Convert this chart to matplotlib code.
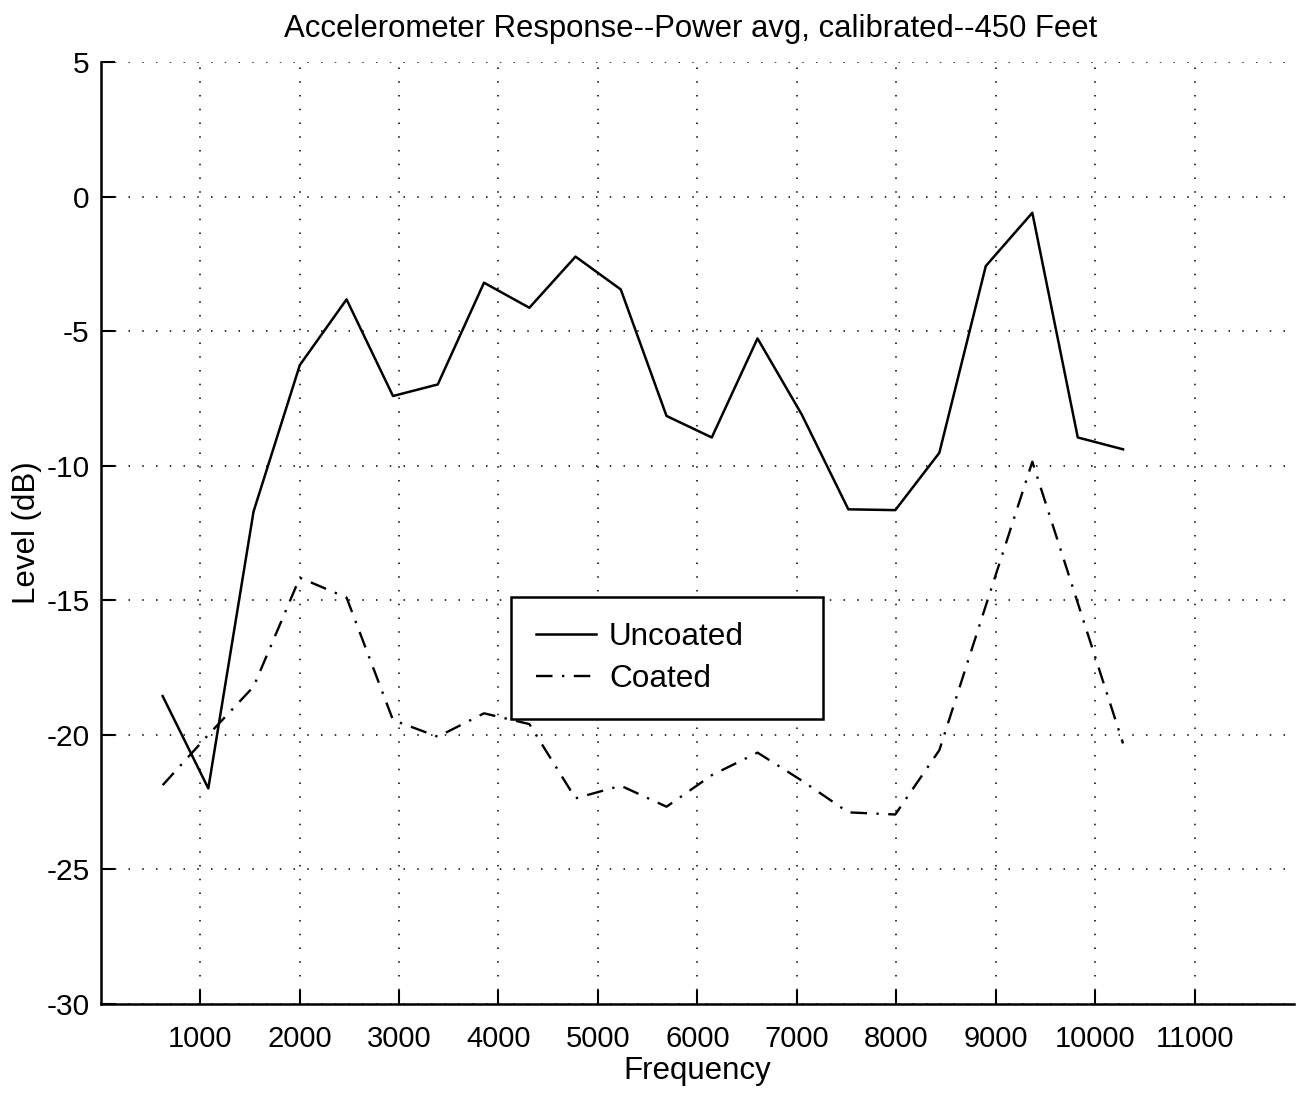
import numpy as np
import matplotlib
matplotlib.use("Agg")
import matplotlib.pyplot as plt

plt.rcParams['font.family'] = ['Liberation Sans', 'DejaVu Sans']

# band centre frequencies (Hz)
freq = [624, 1083, 1538, 2003, 2473, 2940, 3390, 3855, 4311, 4775, 5230, 5690,
        6145, 6605, 7050, 7518, 7990, 8433, 8900, 9368, 9825, 10280]

# power-averaged, calibrated levels (dB)
uncoated = [-18.56, -21.99, -11.7, -6.26, -3.82, -7.41, -6.98, -3.20, -4.13, -2.23, -3.45,
            -8.15, -8.95, -5.27, -8.1, -11.62, -11.65, -9.52, -2.58, -0.60, -8.95, -9.39]
coated = [-21.87, -20.0, -18.21, -14.16, -14.9, -19.45, -20.07, -19.2, -19.6, -22.36, -21.89,
          -22.67, -21.5, -20.66, -21.7, -22.88, -22.96, -20.57, -15.2, -9.85, -15.1, -20.32]

xtick_vals = [1000, 2000, 3000, 4000, 5000, 6000, 7000, 8000, 9000, 10000, 11000]
ytick_vals = [5, 0, -5, -10, -15, -20, -25, -30]

fig = plt.figure(figsize=(12.98, 11), dpi=100)
ax = fig.add_axes([0.0775, 0.0873, 0.9195, 0.8563])

ax.plot(freq, uncoated, color='black', lw=1.8, label='Uncoated')
ax.plot(freq, coated, color='black', lw=1.7, linestyle=(0, (7, 4, 1, 4)),
        label='Coated')

ax.set_xlim(0, 12000)
ax.set_ylim(-30, 5)
ax.set_xticks(xtick_vals)
ax.set_yticks(ytick_vals)
ax.set_xticklabels([str(v) for v in xtick_vals])
ax.set_yticklabels([str(v) for v in ytick_vals])

ax.grid(True, color='black', linestyle=(0, (1, 8)), lw=1.1)
for side in ['top', 'right']:
    ax.spines[side].set_visible(False)
for side in ['left', 'bottom']:
    ax.spines[side].set_linewidth(1.8)

ax.tick_params(axis='both', direction='in', length=10, width=1.5)
ax.tick_params(axis='y', labelsize=21.5, pad=8)
ax.tick_params(axis='x', labelsize=21, pad=15)

ax.set_title('Accelerometer Response--Power avg, calibrated--450 Feet',
             fontsize=22.4, pad=18, x=0.494)
ax.set_xlabel('Frequency', fontsize=22.5, labelpad=2)
ax.set_ylabel('Level (dB)', fontsize=22.5, labelpad=3)

leg = ax.legend(loc='upper left', bbox_to_anchor=(0.344, 0.299, 0.261, 0.133),
                mode='expand', fontsize=22.7, fancybox=False, edgecolor='black',
                framealpha=1, handlelength=1.9, handletextpad=0.4,
                labelspacing=0.37, borderpad=0.8, borderaxespad=0)
leg.get_frame().set_linewidth(1.8)

fig.savefig('out.png', dpi=100)
